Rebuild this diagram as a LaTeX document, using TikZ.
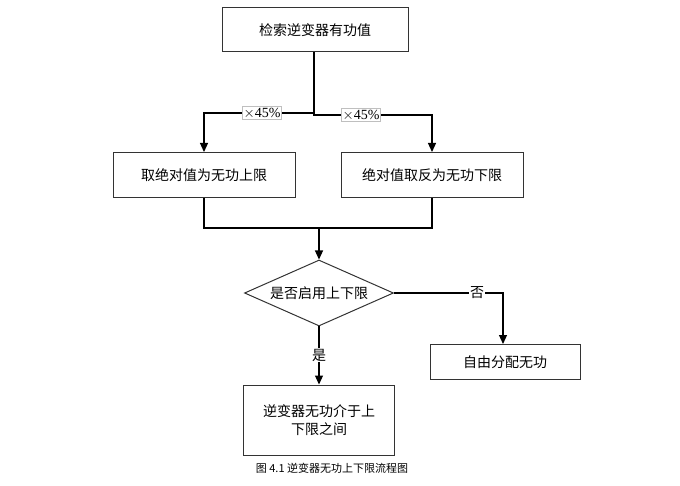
\documentclass[tikz,border=0pt]{standalone}
\usepackage{fontspec}
\setmainfont{Liberation Serif}
\newfontfamily\cjk{Noto Sans CJK SC}
\usetikzlibrary{shapes.geometric,arrows.meta}
\begin{document}
\begin{tikzpicture}[x=1pt,y=-1pt,
  box/.style={draw=black!80,line width=1pt,minimum height=44pt,font=\cjk\fontsize{14}{18}\selectfont,align=center,inner sep=0pt},
  ln/.style={line width=1.2pt},
  arr/.style={ln,-{Triangle[length=9pt,width=8pt]}},
  lab/.style={fill=white,draw=black!25,line width=0.5pt,inner sep=1pt,font=\fontsize{14}{16}\selectfont},
  cl/.style={fill=white,inner sep=1pt,font=\cjk\fontsize{14}{16}\selectfont}]
\useasboundingbox (0,0) rectangle (680,486);
\node[box,minimum width=186pt] (top) at (315,30) {检索逆变器有功值};
\node[box,minimum width=182pt,minimum height=45pt] (l) at (204,175) {取绝对值为无功上限};
\node[box,minimum width=182pt,minimum height=45pt] (r) at (432,175) {绝对值取反为无功下限};
\node[diamond,draw=black!80,line width=1pt,minimum width=149pt,minimum height=66pt,inner sep=0pt,aspect=2.26,font=\cjk\fontsize{14}{18}\selectfont] (d) at (319,293) {};
\node[font=\cjk\fontsize{14}{18}\selectfont] at (d) {是否启用上下限};
\node[box,minimum width=150pt,minimum height=35pt] (f) at (505,362) {自由分配无功};
\node[box,minimum width=151pt,minimum height=70pt,text width=140pt] (g) at (319,420) {逆变器无功介于上\\下限之间};
\coordinate (j) at (314,113);
\coordinate (j2) at (314,115);
\draw[ln] (top.south -| j) -- (j);
\draw[arr] (j) -- (204,113) -- (l.north);
\draw[arr] (j) -- (j2) -- (432,115) -- (r.north);
\node[lab] at (262,113) {$\times$45\%};
\node[lab] at (361,115) {$\times$45\%};
\coordinate (m) at (319,228);
\draw[ln] (l.south) -- (204,228) -- (432,228) -- (r.south);
\draw[arr] (m) -- (d.north);
\draw[arr] (d.east) -- (503,293) -- (f.north -| 503,0);
\node[cl] at (477,293) {否};
\draw[arr] (d.south) -- (g.north);
\node[cl] at (319,355) {是};
\node[font=\cjk\fontsize{11}{13}\selectfont] (cap) at (332,468) {图 4.1\ 逆变器无功上下限流程图};
\end{tikzpicture}
\end{document}
